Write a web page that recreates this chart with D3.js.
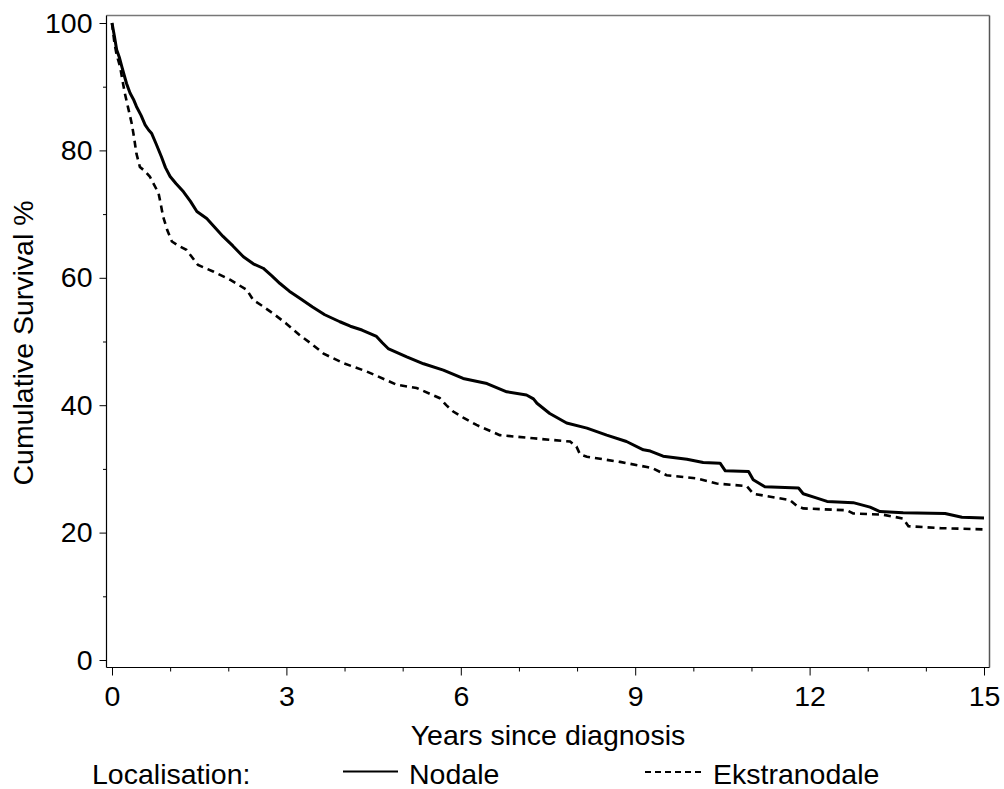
<!DOCTYPE html>
<html>
<head>
<meta charset="utf-8">
<script src="https://cdn.jsdelivr.net/npm/d3@7"></script>
<style>
  html, body { margin: 0; padding: 0; background: #fff; }
  svg { display: block; }
  text { font-family: "Liberation Sans", Arial, sans-serif; fill: #000; }
</style>
</head>
<body>
<svg id="chart" width="1004" height="789"></svg>
<script>
// ---- data ----
const nodaleTime = [0,0.04,0.08,0.13,0.17,0.21,0.25,0.31,0.37,0.42,0.5,0.57,0.63,0.68,0.76,0.85,0.92,1.0,1.1,1.23,1.35,1.46,1.63,1.77,1.91,2.08,2.26,2.43,2.6,2.75,2.89,3.05,3.23,3.45,3.66,3.92,4.1,4.3,4.55,4.65,4.75,5.07,5.36,5.7,6.04,6.45,6.79,7.13,7.25,7.31,7.53,7.82,8.17,8.51,8.85,9.14,9.26,9.48,9.89,10.17,10.46,10.55,10.95,11.03,11.23,11.81,11.89,12.1,12.3,12.75,13.04,13.21,13.61,14.33,14.62,15.0];
const nodaleSurv = [100,98,95.8,94.5,93.1,91.8,90.5,89,88,86.9,85.5,84,83.2,82.7,81,79,77.3,75.9,74.8,73.5,72,70.4,69.3,67.9,66.5,65,63.3,62.2,61.5,60.3,59.1,57.9,56.8,55.4,54.2,53.1,52.4,51.8,50.8,49.8,48.9,47.6,46.5,45.5,44.2,43.4,42.1,41.6,41,40.3,38.7,37.2,36.4,35.3,34.3,33,32.8,32,31.5,31,30.9,29.7,29.6,28.3,27.2,27,26.1,25.5,24.9,24.7,24,23.3,23.1,23,22.4,22.3];

const ekstraTime = [0,0.04,0.08,0.14,0.18,0.22,0.28,0.34,0.38,0.42,0.48,0.56,0.65,0.8,0.84,0.88,0.95,1.03,1.15,1.28,1.48,1.74,2.03,2.32,2.43,2.6,2.8,3.0,3.23,3.45,3.64,3.98,4.38,4.9,5.24,5.64,5.75,5.87,6.05,6.27,6.67,7.25,7.88,7.99,8.05,8.17,8.74,9.2,9.3,9.54,10.06,10.4,10.92,11.03,11.66,11.78,11.89,12.64,12.75,13.27,13.61,13.7,14.25,15.0];
const ekstraSurv = [100,97,95,93.1,91,89,86.6,84.2,82,79.5,77.4,76.8,75.9,73.3,71.5,69.6,67.5,65.7,65,64.4,62,61,59.7,58.1,56.5,55.5,54.2,52.8,51,49.5,48.1,46.6,45.3,43.2,42.7,41.1,40,39,38,36.9,35.3,34.8,34.3,33.5,32.3,31.9,31.1,30.3,30.1,29,28.5,27.7,27.3,26.1,25.1,24.2,23.8,23.5,23,22.8,22.2,21,20.7,20.5];

const seriesNames = ["Nodale", "Ekstranodale"];
const xMajorTicks = [0,3,6,9,12,15];
const xMinorTicks = [1,2,4,5,7,8,10,11,13,14];
const yMajorTicks = [0,20,40,60,80,100];
const yMinorTicks = [10,30,50,70,90];
const xTitle = "Years since diagnosis";
const yTitle = "Cumulative Survival %";
const legendTitle = "Localisation:";

// ---- drawing ----
const svg = d3.select("#chart");
const FS = "28.5px";

const x = d3.scaleLinear().domain([0, 15]).range([112, 984]);
const y = d3.scaleLinear().domain([0, 100]).range([660, 23]);

const frame = {left: 106.5, right: 989.5, top: 15.5, bottom: 667.5};

// frame: top/right grey, left/bottom black
svg.append("line").attr("x1", frame.left).attr("x2", frame.right).attr("y1", frame.top).attr("y2", frame.top)
  .attr("stroke", "#777").attr("stroke-width", 1.5);
svg.append("line").attr("x1", frame.right).attr("x2", frame.right).attr("y1", frame.top).attr("y2", frame.bottom)
  .attr("stroke", "#555").attr("stroke-width", 1.5);
svg.append("line").attr("x1", frame.left).attr("x2", frame.left).attr("y1", frame.top).attr("y2", frame.bottom)
  .attr("stroke", "#000").attr("stroke-width", 1.2);
svg.append("line").attr("x1", frame.left).attr("x2", frame.right).attr("y1", frame.bottom).attr("y2", frame.bottom)
  .attr("stroke", "#000").attr("stroke-width", 1.2);

// y axis
const yAxis = d3.axisLeft(y).tickValues(yMajorTicks).tickSize(7).tickPadding(7).tickFormat(d3.format("d"));
const gy = svg.append("g").attr("transform", `translate(${frame.left},0)`).call(yAxis);
gy.select(".domain").remove();
gy.selectAll("text").style("font-size", FS).style("font-family", '"Liberation Sans", Arial, sans-serif');
gy.selectAll("line").attr("stroke", "#000").attr("stroke-width", 1);
const gyMinor = svg.append("g").attr("transform", `translate(${frame.left},0)`)
  .call(d3.axisLeft(y).tickValues(yMinorTicks).tickSize(3.5).tickFormat(""));
gyMinor.select(".domain").remove();
gyMinor.selectAll("line").attr("stroke", "#000").attr("stroke-width", 1);

// x axis
const xAxis = d3.axisBottom(x).tickValues(xMajorTicks).tickSize(8).tickPadding(10).tickFormat(d3.format("d"));
const gx = svg.append("g").attr("transform", `translate(0,${frame.bottom})`).call(xAxis);
gx.select(".domain").remove();
gx.selectAll("text").style("font-size", FS).style("font-family", '"Liberation Sans", Arial, sans-serif');
gx.selectAll("line").attr("stroke", "#000").attr("stroke-width", 1);
const gxMinor = svg.append("g").attr("transform", `translate(0,${frame.bottom})`)
  .call(d3.axisBottom(x).tickValues(xMinorTicks).tickSize(4).tickFormat(""));
gxMinor.select(".domain").remove();
gxMinor.selectAll("line").attr("stroke", "#000").attr("stroke-width", 1);

// titles
svg.append("text").attr("x", 548).attr("y", 745).attr("text-anchor", "middle")
  .style("font-size", FS).text(xTitle);
svg.append("text").attr("transform", "translate(33,343) rotate(-90)").attr("text-anchor", "middle")
  .style("font-size", FS).text(yTitle);

// curves
const line = d3.line().x(d => x(d[0])).y(d => y(d[1])).curve(d3.curveLinear);
const nodale = nodaleTime.map((t, i) => [t, nodaleSurv[i]]);
const ekstra = ekstraTime.map((t, i) => [t, ekstraSurv[i]]);

svg.append("path").datum(ekstra).attr("d", line)
  .attr("fill", "none").attr("stroke", "#000").attr("stroke-width", 2.6)
  .attr("stroke-dasharray", "7,5");
svg.append("path").datum(nodale).attr("d", line)
  .attr("fill", "none").attr("stroke", "#000").attr("stroke-width", 3)
  .attr("stroke-linejoin", "round");

// legend
svg.append("text").attr("x", 92).attr("y", 784).style("font-size", FS).text(legendTitle);
svg.append("line").attr("x1", 343).attr("x2", 398).attr("y1", 771.5).attr("y2", 771.5)
  .attr("stroke", "#000").attr("stroke-width", 2);
svg.append("text").attr("x", 409).attr("y", 784).style("font-size", FS).text(seriesNames[0]);
svg.append("line").attr("x1", 645).attr("x2", 703).attr("y1", 772).attr("y2", 772)
  .attr("stroke", "#000").attr("stroke-width", 2).attr("stroke-dasharray", "6,4");
svg.append("text").attr("x", 713).attr("y", 784).style("font-size", FS).text(seriesNames[1]);
</script>
</body>
</html>
